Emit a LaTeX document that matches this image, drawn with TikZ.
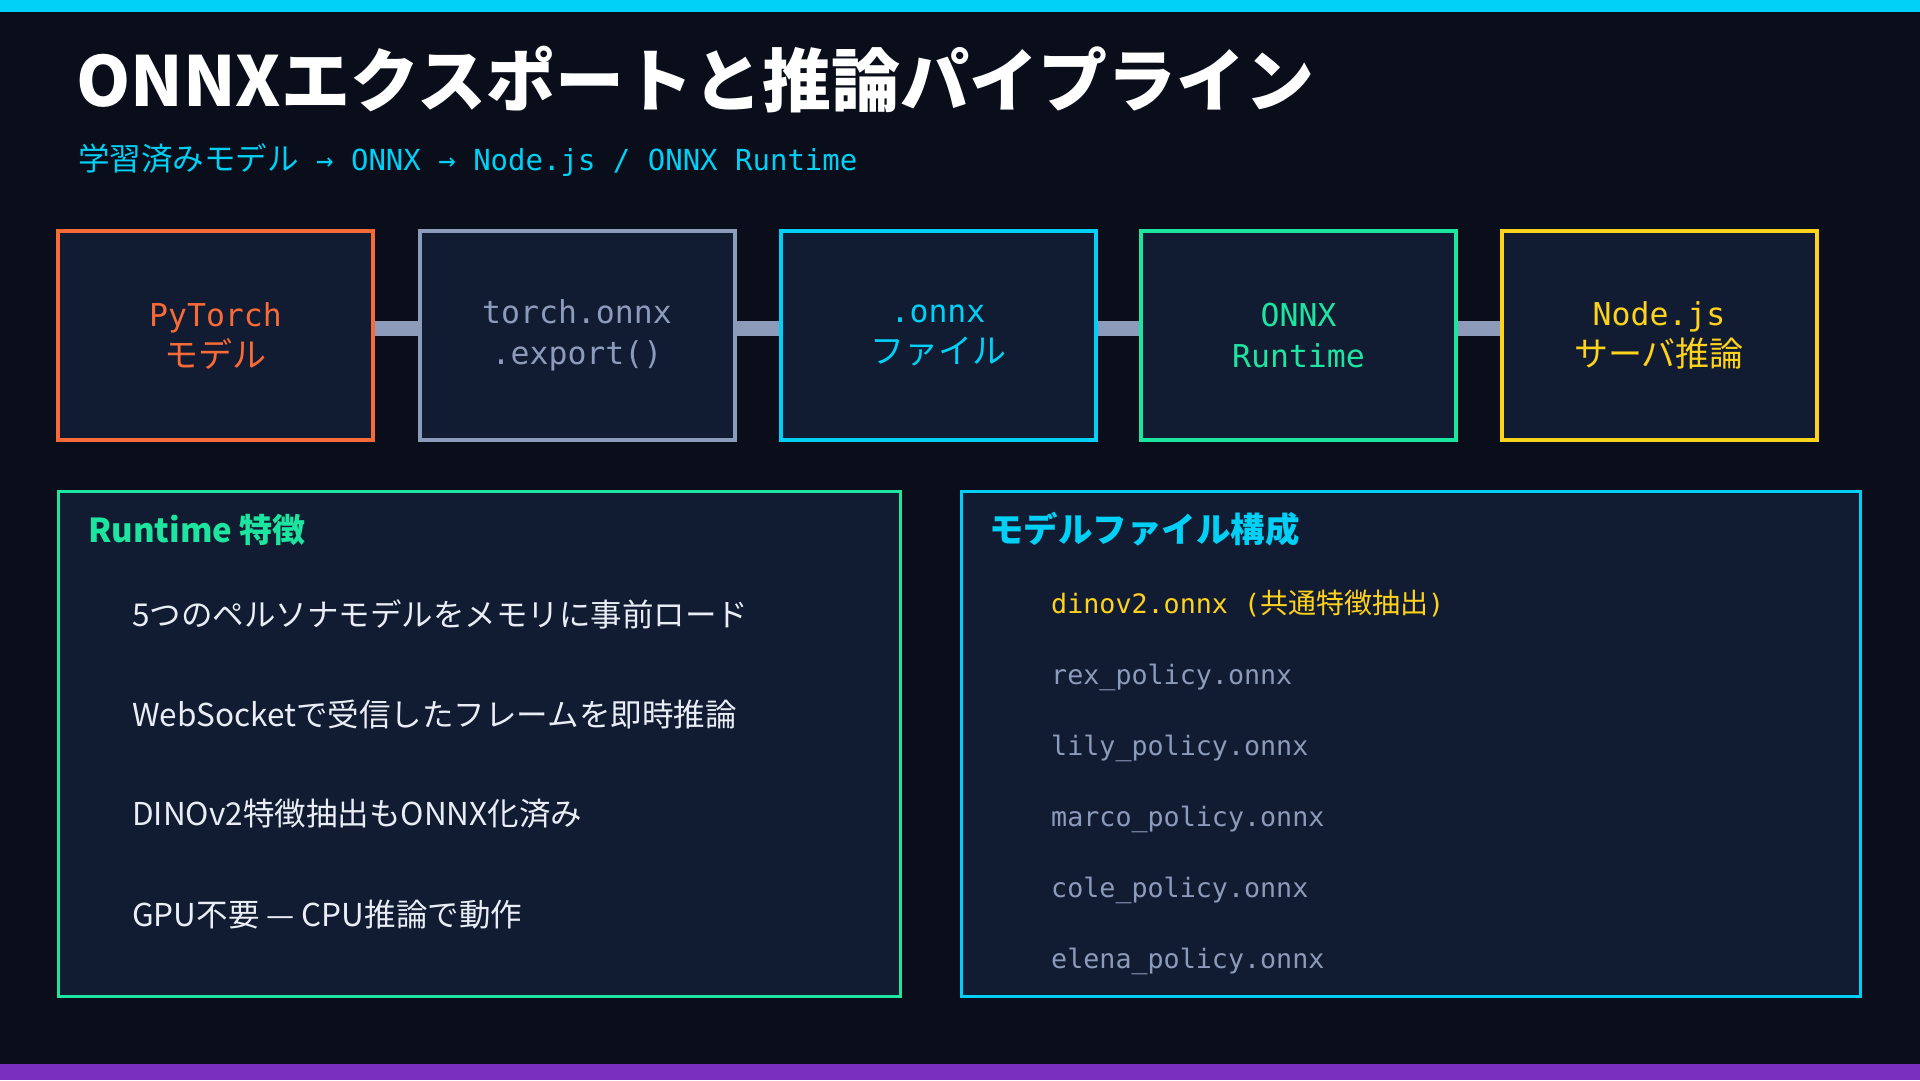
\documentclass[tikz,border=0pt]{standalone}
\usepackage{fontspec}
\setmainfont{Noto Sans CJK JP}
\setmonofont{DejaVu Sans Mono}
\newfontfamily\cjk{Noto Sans CJK JP}
\newcommand\jp[2]{{\cjk\fontsize{#1}{41}\selectfont #2}}
\definecolor{bg}{HTML}{0A0E1A}
\definecolor{panel}{HTML}{111B31}
\definecolor{ccyan}{HTML}{00D0F5}
\definecolor{corange}{HTML}{F86A38}
\definecolor{cslate}{HTML}{8D9BBB}
\definecolor{cgreen}{HTML}{1DE5A0}
\definecolor{cyellow}{HTML}{FFD21C}
\definecolor{cpurple}{HTML}{7B2FBE}
\definecolor{ctext}{HTML}{E9EEF6}
\tikzset{
  stagebox/.style={draw, line width=4pt, fill=panel, minimum width=315pt, minimum height=209pt,
    align=center, inner sep=0pt, outer sep=0pt, font=\ttfamily\fontsize{31.5}{41}\selectfont},
  panelbox/.style={draw, line width=3pt, fill=panel, inner sep=0pt, outer sep=0pt},
  linkbar/.style={draw=cslate, line width=15pt, shorten <=2pt, shorten >=2pt},
  heading/.style={anchor=base west, inner sep=0pt, font=\bfseries\fontsize{33}{40}\selectfont},
  bullet/.style={anchor=base west, inner sep=0pt, text=ctext, font=\fontsize{31.5}{36}\selectfont},
  fileitem/.style={anchor=base west, inner sep=0pt, text=cslate, font=\ttfamily\fontsize{26.7}{32}\selectfont},
}
\begin{document}
\begin{tikzpicture}[x=1pt, y=-1pt]
\useasboundingbox (0,0) rectangle (1920,1080);
\fill[bg] (0,0) rectangle (1920,1080);
\fill[ccyan] (0,0) rectangle (1920,12);
\fill[cpurple] (0,1064) rectangle (1920,1080);

% title
\node[anchor=base west, inner sep=0pt, text=white, font=\bfseries\fontsize{69}{80}\selectfont] (title) at (76,106) {ONNXエクスポートと推論パイプライン};
\node[anchor=base west, inner sep=0pt, text=ccyan, font=\fontsize{31.5}{36}\selectfont] (subtitle) at (78,170)
  {学習済みモデル\ttfamily\fontsize{29}{36}\selectfont{} → ONNX → Node.js / ONNX Runtime};

% pipeline boxes
\node[stagebox, draw=corange, text=corange] (b1) at (215.5,335.5) {PyTorch\\\jp{34}{モデル}};
\node[stagebox, draw=cslate, text=cslate] (b2) at (577,335.5) {torch.onnx\\.export()};
\node[stagebox, draw=ccyan, text=ccyan] (b3) at (938,335.5) {.onnx\\\jp{34}{ファイル}};
\node[stagebox, draw=cgreen, text=cgreen] (b4) at (1298.5,335.5) {ONNX\\Runtime};
\node[stagebox, draw=cyellow, text=cyellow] (b5) at (1659,335.5) {Node.js\\\jp{34}{サーバ推論}};

\draw[linkbar] ([yshift=7pt]b1.east) -- ([yshift=7pt]b2.west);
\draw[linkbar] ([yshift=7pt]b2.east) -- ([yshift=7pt]b3.west);
\draw[linkbar] ([yshift=7pt]b3.east) -- ([yshift=7pt]b4.west);
\draw[linkbar] ([yshift=7pt]b4.east) -- ([yshift=7pt]b5.west);

% lower panels
\node[panelbox, draw=cgreen, minimum width=842pt, minimum height=505pt] (lp) at (479.5,744) {};
\node[panelbox, draw=ccyan, minimum width=899pt, minimum height=505pt] (rp) at (1411,744) {};

\node[heading, text=cgreen] (lh) at (88,542) {Runtime 特徴};
\node[bullet] (l1) at (132,626) {5つのペルソナモデルをメモリに事前ロード};
\node[bullet] (l2) at (132,726) {WebSocketで受信したフレームを即時推論};
\node[bullet] (l3) at (132,825) {DINOv2特徴抽出もONNX化済み};
\node[bullet] (l4) at (132,926) {GPU不要 — CPU推論で動作};

\node[heading, text=ccyan, font=\bfseries\fontsize{34.5}{40}\selectfont] (rh) at (989,542) {モデルファイル構成};
\node[fileitem, text=cyellow] (f1) at (1051,613) {dinov2.onnx (\jp{28}{共通特徴抽出})};
\node[fileitem] (f2) at (1051,684) {rex\_policy.onnx};
\node[fileitem] (f3) at (1051,755) {lily\_policy.onnx};
\node[fileitem] (f4) at (1051,826) {marco\_policy.onnx};
\node[fileitem] (f5) at (1051,897) {cole\_policy.onnx};
\node[fileitem] (f6) at (1051,968) {elena\_policy.onnx};
\end{tikzpicture}
\end{document}
